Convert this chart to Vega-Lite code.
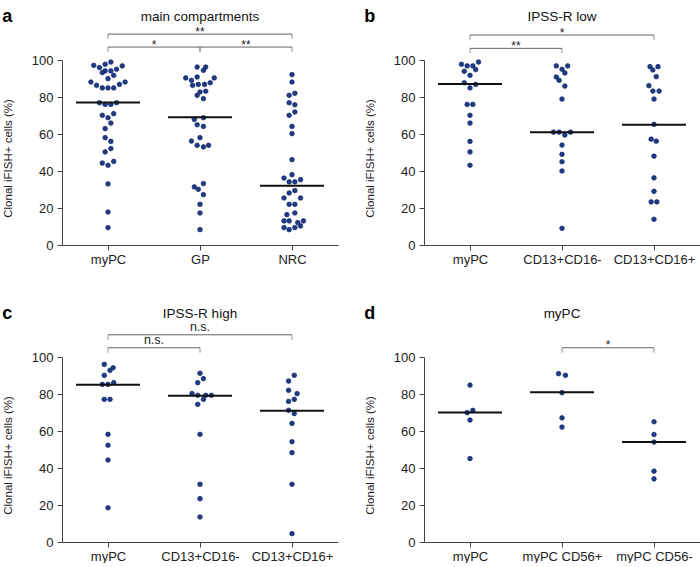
{
  "$schema": "https://vega.github.io/schema/vega-lite/v6.json",
  "padding": {"left": 2, "top": 7, "right": 0, "bottom": 0},
  "config": {
    "font": "Liberation Sans",
    "view": {"stroke": null},
    "axis": {"grid": false, "domainColor": "#444", "tickColor": "#444", "labelColor": "#222", "titleColor": "#222", "tickSize": 5, "labelFontSize": 13, "labelFont": "Liberation Sans", "titleFont": "Liberation Sans"},
    "axisY": {"labelOverlap": false, "labelPadding": 4, "titleFontSize": 11.5, "titleFontWeight": "normal", "titlePadding": 18, "titleY": 98},
    "axisX": {"labelAngle": 0, "labelPadding": 3},
    "title": {"font": "Liberation Sans"}
  },
  "datasets": {
    "points": [
      {"panel":"a","group":"myPC","value":98.9,"slot":0.5},
      {"panel":"a","group":"myPC","value":97.7,"slot":-0.5},
      {"panel":"a","group":"myPC","value":97.1,"slot":-2.5},
      {"panel":"a","group":"myPC","value":96.8,"slot":2.5},
      {"panel":"a","group":"myPC","value":95.9,"slot":-1.5},
      {"panel":"a","group":"myPC","value":95.0,"slot":1.5},
      {"panel":"a","group":"myPC","value":94.1,"slot":-0.5},
      {"panel":"a","group":"myPC","value":94.1,"slot":0.5},
      {"panel":"a","group":"myPC","value":93.2,"slot":-1},
      {"panel":"a","group":"myPC","value":91.7,"slot":1},
      {"panel":"a","group":"myPC","value":89.9,"slot":0},
      {"panel":"a","group":"myPC","value":88.1,"slot":-3},
      {"panel":"a","group":"myPC","value":88.1,"slot":3},
      {"panel":"a","group":"myPC","value":86.8,"slot":2},
      {"panel":"a","group":"myPC","value":86.3,"slot":-2},
      {"panel":"a","group":"myPC","value":84.9,"slot":-1},
      {"panel":"a","group":"myPC","value":84.9,"slot":0},
      {"panel":"a","group":"myPC","value":84.9,"slot":1},
      {"panel":"a","group":"myPC","value":76.9,"slot":-1.5},
      {"panel":"a","group":"myPC","value":76.0,"slot":-0.5},
      {"panel":"a","group":"myPC","value":76.0,"slot":0.5},
      {"panel":"a","group":"myPC","value":76.9,"slot":1.5},
      {"panel":"a","group":"myPC","value":70.1,"slot":-1},
      {"panel":"a","group":"myPC","value":71.0,"slot":1},
      {"panel":"a","group":"myPC","value":68.8,"slot":0},
      {"panel":"a","group":"myPC","value":65.9,"slot":0.5},
      {"panel":"a","group":"myPC","value":62.9,"slot":-0.5},
      {"panel":"a","group":"myPC","value":58.0,"slot":-0.5},
      {"panel":"a","group":"myPC","value":56.0,"slot":0.5},
      {"panel":"a","group":"myPC","value":52.1,"slot":0.5},
      {"panel":"a","group":"myPC","value":50.3,"slot":-0.5},
      {"panel":"a","group":"myPC","value":44.3,"slot":-1},
      {"panel":"a","group":"myPC","value":43.1,"slot":0},
      {"panel":"a","group":"myPC","value":45.2,"slot":1},
      {"panel":"a","group":"myPC","value":33.0,"slot":0},
      {"panel":"a","group":"myPC","value":17.8,"slot":0},
      {"panel":"a","group":"myPC","value":9.4,"slot":0},
      {"panel":"a","group":"GP","value":96.2,"slot":-0.5},
      {"panel":"a","group":"GP","value":96.2,"slot":1},
      {"panel":"a","group":"GP","value":94.4,"slot":0.6},
      {"panel":"a","group":"GP","value":90.8,"slot":-0.5},
      {"panel":"a","group":"GP","value":90.3,"slot":-2.5},
      {"panel":"a","group":"GP","value":90.3,"slot":2.5},
      {"panel":"a","group":"GP","value":89.0,"slot":-1.5},
      {"panel":"a","group":"GP","value":87.7,"slot":1.8},
      {"panel":"a","group":"GP","value":86.8,"slot":-0.3},
      {"panel":"a","group":"GP","value":86.8,"slot":0.8},
      {"panel":"a","group":"GP","value":86.3,"slot":-1.3},
      {"panel":"a","group":"GP","value":83.1,"slot":1},
      {"panel":"a","group":"GP","value":82.7,"slot":0},
      {"panel":"a","group":"GP","value":80.9,"slot":-0.5},
      {"panel":"a","group":"GP","value":79.1,"slot":0.6},
      {"panel":"a","group":"GP","value":68.8,"slot":0.6},
      {"panel":"a","group":"GP","value":67.9,"slot":-1},
      {"panel":"a","group":"GP","value":65.0,"slot":-0.5},
      {"panel":"a","group":"GP","value":64.1,"slot":0.6},
      {"panel":"a","group":"GP","value":58.0,"slot":0},
      {"panel":"a","group":"GP","value":56.2,"slot":-1.5},
      {"panel":"a","group":"GP","value":53.9,"slot":-0.5},
      {"panel":"a","group":"GP","value":53.9,"slot":1.5},
      {"panel":"a","group":"GP","value":53.0,"slot":0.6},
      {"panel":"a","group":"GP","value":33.2,"slot":0.6},
      {"panel":"a","group":"GP","value":31.4,"slot":-1},
      {"panel":"a","group":"GP","value":30.1,"slot":-0.3},
      {"panel":"a","group":"GP","value":27.2,"slot":0.6},
      {"panel":"a","group":"GP","value":22.0,"slot":0},
      {"panel":"a","group":"GP","value":17.3,"slot":0},
      {"panel":"a","group":"GP","value":8.3,"slot":0},
      {"panel":"a","group":"NRC","value":92.1,"slot":0},
      {"panel":"a","group":"NRC","value":88.1,"slot":0},
      {"panel":"a","group":"NRC","value":82.0,"slot":0.5},
      {"panel":"a","group":"NRC","value":80.9,"slot":-0.5},
      {"panel":"a","group":"NRC","value":76.9,"slot":-0.5},
      {"panel":"a","group":"NRC","value":75.8,"slot":0.5},
      {"panel":"a","group":"NRC","value":71.9,"slot":0.5},
      {"panel":"a","group":"NRC","value":70.1,"slot":-0.5},
      {"panel":"a","group":"NRC","value":64.1,"slot":0},
      {"panel":"a","group":"NRC","value":60.2,"slot":0},
      {"panel":"a","group":"NRC","value":46.1,"slot":0},
      {"panel":"a","group":"NRC","value":38.0,"slot":0},
      {"panel":"a","group":"NRC","value":36.2,"slot":-1.4},
      {"panel":"a","group":"NRC","value":35.3,"slot":1.5},
      {"panel":"a","group":"NRC","value":34.1,"slot":-0.5},
      {"panel":"a","group":"NRC","value":34.1,"slot":0.5},
      {"panel":"a","group":"NRC","value":29.4,"slot":0.5},
      {"panel":"a","group":"NRC","value":28.1,"slot":-0.5},
      {"panel":"a","group":"NRC","value":25.4,"slot":-1.4},
      {"panel":"a","group":"NRC","value":25.4,"slot":1.5},
      {"panel":"a","group":"NRC","value":22.0,"slot":-0.5},
      {"panel":"a","group":"NRC","value":22.0,"slot":0.5},
      {"panel":"a","group":"NRC","value":17.3,"slot":0.5},
      {"panel":"a","group":"NRC","value":16.4,"slot":-0.9},
      {"panel":"a","group":"NRC","value":13.0,"slot":-1.4},
      {"panel":"a","group":"NRC","value":13.0,"slot":-0.5},
      {"panel":"a","group":"NRC","value":12.1,"slot":1},
      {"panel":"a","group":"NRC","value":13.0,"slot":2},
      {"panel":"a","group":"NRC","value":10.3,"slot":1.5},
      {"panel":"a","group":"NRC","value":9.4,"slot":-1.4},
      {"panel":"a","group":"NRC","value":9.4,"slot":0.5},
      {"panel":"a","group":"NRC","value":8.3,"slot":-0.5},
      {"panel":"b","group":"myPC","value":98.9,"slot":1.5},
      {"panel":"b","group":"myPC","value":97.7,"slot":-1.5},
      {"panel":"b","group":"myPC","value":96.8,"slot":-0.5},
      {"panel":"b","group":"myPC","value":96.8,"slot":0.5},
      {"panel":"b","group":"myPC","value":94.8,"slot":1},
      {"panel":"b","group":"myPC","value":93.9,"slot":-1},
      {"panel":"b","group":"myPC","value":91.7,"slot":0},
      {"panel":"b","group":"myPC","value":87.7,"slot":-1},
      {"panel":"b","group":"myPC","value":86.8,"slot":1},
      {"panel":"b","group":"myPC","value":84.9,"slot":0},
      {"panel":"b","group":"myPC","value":76.0,"slot":-0.5},
      {"panel":"b","group":"myPC","value":76.0,"slot":0.5},
      {"panel":"b","group":"myPC","value":70.1,"slot":0},
      {"panel":"b","group":"myPC","value":65.9,"slot":0},
      {"panel":"b","group":"myPC","value":56.0,"slot":0},
      {"panel":"b","group":"myPC","value":50.3,"slot":0},
      {"panel":"b","group":"myPC","value":43.1,"slot":0},
      {"panel":"b","group":"CD13+CD16-","value":96.8,"slot":-1},
      {"panel":"b","group":"CD13+CD16-","value":96.8,"slot":1},
      {"panel":"b","group":"CD13+CD16-","value":95.0,"slot":0},
      {"panel":"b","group":"CD13+CD16-","value":93.0,"slot":0.5},
      {"panel":"b","group":"CD13+CD16-","value":90.8,"slot":-1},
      {"panel":"b","group":"CD13+CD16-","value":89.0,"slot":-0.5},
      {"panel":"b","group":"CD13+CD16-","value":85.9,"slot":0.5},
      {"panel":"b","group":"CD13+CD16-","value":78.9,"slot":0},
      {"panel":"b","group":"CD13+CD16-","value":61.0,"slot":-1.5},
      {"panel":"b","group":"CD13+CD16-","value":61.0,"slot":-0.5},
      {"panel":"b","group":"CD13+CD16-","value":61.0,"slot":1.5},
      {"panel":"b","group":"CD13+CD16-","value":59.4,"slot":0.5},
      {"panel":"b","group":"CD13+CD16-","value":54.0,"slot":0},
      {"panel":"b","group":"CD13+CD16-","value":49.0,"slot":0},
      {"panel":"b","group":"CD13+CD16-","value":45.0,"slot":0},
      {"panel":"b","group":"CD13+CD16-","value":40.0,"slot":0},
      {"panel":"b","group":"CD13+CD16-","value":9.0,"slot":0},
      {"panel":"b","group":"CD13+CD16+","value":96.4,"slot":-0.7},
      {"panel":"b","group":"CD13+CD16+","value":96.4,"slot":0.7},
      {"panel":"b","group":"CD13+CD16+","value":94.6,"slot":-0.2},
      {"panel":"b","group":"CD13+CD16+","value":91.0,"slot":0.4},
      {"panel":"b","group":"CD13+CD16+","value":86.1,"slot":-0.9},
      {"panel":"b","group":"CD13+CD16+","value":83.2,"slot":-0.2},
      {"panel":"b","group":"CD13+CD16+","value":83.2,"slot":0.9},
      {"panel":"b","group":"CD13+CD16+","value":78.9,"slot":0},
      {"panel":"b","group":"CD13+CD16+","value":65.2,"slot":0},
      {"panel":"b","group":"CD13+CD16+","value":57.2,"slot":-0.5},
      {"panel":"b","group":"CD13+CD16+","value":56.1,"slot":0.4},
      {"panel":"b","group":"CD13+CD16+","value":48.0,"slot":0},
      {"panel":"b","group":"CD13+CD16+","value":36.3,"slot":0},
      {"panel":"b","group":"CD13+CD16+","value":29.0,"slot":0},
      {"panel":"b","group":"CD13+CD16+","value":23.3,"slot":-0.5},
      {"panel":"b","group":"CD13+CD16+","value":23.3,"slot":0.5},
      {"panel":"b","group":"CD13+CD16+","value":13.9,"slot":0},
      {"panel":"c","group":"myPC","value":96.0,"slot":-0.65},
      {"panel":"c","group":"myPC","value":94.2,"slot":0.9},
      {"panel":"c","group":"myPC","value":92.8,"slot":0.35},
      {"panel":"c","group":"myPC","value":90.1,"slot":-0.65},
      {"panel":"c","group":"myPC","value":86.1,"slot":1},
      {"panel":"c","group":"myPC","value":85.2,"slot":-1},
      {"panel":"c","group":"myPC","value":85.2,"slot":0},
      {"panel":"c","group":"myPC","value":77.1,"slot":-0.65},
      {"panel":"c","group":"myPC","value":77.1,"slot":0.35},
      {"panel":"c","group":"myPC","value":58.2,"slot":0},
      {"panel":"c","group":"myPC","value":52.3,"slot":0},
      {"panel":"c","group":"myPC","value":44.3,"slot":0},
      {"panel":"c","group":"myPC","value":18.5,"slot":0},
      {"panel":"c","group":"CD13+CD16-","value":91.2,"slot":0},
      {"panel":"c","group":"CD13+CD16-","value":88.3,"slot":0.6},
      {"panel":"c","group":"CD13+CD16-","value":86.1,"slot":-0.4},
      {"panel":"c","group":"CD13+CD16-","value":80.2,"slot":-1.4},
      {"panel":"c","group":"CD13+CD16-","value":79.3,"slot":-0.4},
      {"panel":"c","group":"CD13+CD16-","value":79.3,"slot":1.0},
      {"panel":"c","group":"CD13+CD16-","value":79.3,"slot":2.0},
      {"panel":"c","group":"CD13+CD16-","value":77.1,"slot":0.6},
      {"panel":"c","group":"CD13+CD16-","value":74.4,"slot":-0.4},
      {"panel":"c","group":"CD13+CD16-","value":58.2,"slot":0},
      {"panel":"c","group":"CD13+CD16-","value":31.2,"slot":0},
      {"panel":"c","group":"CD13+CD16-","value":23.4,"slot":0},
      {"panel":"c","group":"CD13+CD16-","value":13.5,"slot":0},
      {"panel":"c","group":"CD13+CD16+","value":90.1,"slot":0.4},
      {"panel":"c","group":"CD13+CD16+","value":87.0,"slot":-0.6},
      {"panel":"c","group":"CD13+CD16+","value":82.0,"slot":-0.6},
      {"panel":"c","group":"CD13+CD16+","value":80.2,"slot":0.9},
      {"panel":"c","group":"CD13+CD16+","value":77.1,"slot":0.4},
      {"panel":"c","group":"CD13+CD16+","value":76.0,"slot":-0.6},
      {"panel":"c","group":"CD13+CD16+","value":71.2,"slot":-0.6},
      {"panel":"c","group":"CD13+CD16+","value":69.4,"slot":0.4},
      {"panel":"c","group":"CD13+CD16+","value":64.1,"slot":0},
      {"panel":"c","group":"CD13+CD16+","value":54.2,"slot":0},
      {"panel":"c","group":"CD13+CD16+","value":48.3,"slot":0},
      {"panel":"c","group":"CD13+CD16+","value":31.2,"slot":0},
      {"panel":"c","group":"CD13+CD16+","value":4.5,"slot":0},
      {"panel":"d","group":"myPC","value":84.8,"slot":0},
      {"panel":"d","group":"myPC","value":71.1,"slot":0.5},
      {"panel":"d","group":"myPC","value":69.9,"slot":-0.5},
      {"panel":"d","group":"myPC","value":65.9,"slot":0},
      {"panel":"d","group":"myPC","value":45.1,"slot":0},
      {"panel":"d","group":"myPC CD56+","value":91.0,"slot":-0.6},
      {"panel":"d","group":"myPC CD56+","value":90.1,"slot":0.6},
      {"panel":"d","group":"myPC CD56+","value":80.7,"slot":0},
      {"panel":"d","group":"myPC CD56+","value":67.1,"slot":0},
      {"panel":"d","group":"myPC CD56+","value":62.1,"slot":0},
      {"panel":"d","group":"myPC CD56-","value":65.0,"slot":0},
      {"panel":"d","group":"myPC CD56-","value":58.1,"slot":0},
      {"panel":"d","group":"myPC CD56-","value":54.0,"slot":0},
      {"panel":"d","group":"myPC CD56-","value":38.3,"slot":0},
      {"panel":"d","group":"myPC CD56-","value":34.1,"slot":0}
    ],
    "medians": [
      {"panel":"a","group":"myPC","median":77},
      {"panel":"a","group":"GP","median":69},
      {"panel":"a","group":"NRC","median":32},
      {"panel":"b","group":"myPC","median":87},
      {"panel":"b","group":"CD13+CD16-","median":61},
      {"panel":"b","group":"CD13+CD16+","median":65},
      {"panel":"c","group":"myPC","median":85},
      {"panel":"c","group":"CD13+CD16-","median":79},
      {"panel":"c","group":"CD13+CD16+","median":71},
      {"panel":"d","group":"myPC","median":70},
      {"panel":"d","group":"myPC CD56+","median":81},
      {"panel":"d","group":"myPC CD56-","median":54}
    ],
    "brackets": [
      {"panel":"a","from":1,"to":3,"level":114,"label":"**"},
      {"panel":"a","from":1,"to":2,"level":107,"label":"*"},
      {"panel":"a","from":2,"to":3,"level":107,"label":"**"},
      {"panel":"b","from":1,"to":3,"level":113.5,"label":"*"},
      {"panel":"b","from":1,"to":2,"level":106.3,"label":"**"},
      {"panel":"c","from":1,"to":3,"level":112,"label":"n.s."},
      {"panel":"c","from":1,"to":2,"level":105,"label":"n.s."},
      {"panel":"d","from":2,"to":3,"level":105,"label":"*"}
    ],
    "titles": [
      {"panel":"a","title":"main compartments"},
      {"panel":"b","title":"IPSS-R low"},
      {"panel":"c","title":"IPSS-R high"},
      {"panel":"d","title":"myPC"}
    ]
  },
  "vconcat": [
    {
      "spacing": 26,
      "hconcat": [
        {
          "title": {"text": "a", "anchor": "start", "frame": "bounds", "fontSize": 18, "fontWeight": "bold", "color": "#000", "offset": -16},
          "width": 276, "height": 185,
          "resolve": {"scale": {"x": "independent"}},
          "layer": [
            {"data": {"name": "points"}, "transform": [{"filter": "datum.panel === 'a'"}],
             "mark": {"type": "circle", "size": 22, "color": "#1f3b87", "opacity": 1, "stroke": "#0c205c", "strokeWidth": 0.6},
             "encoding": {
               "x": {"field": "group", "type": "nominal", "scale": {"type": "point", "padding": 0.5, "domain": ["myPC","GP","NRC"]}, "axis": {"title": null}},
               "xOffset": {"field": "slot", "type": "quantitative", "scale": {"domain": [-1, 1], "range": [-5.7, 5.7]}},
               "y": {"field": "value", "type": "quantitative", "scale": {"domain": [0, 100], "nice": false}, "axis": {"values": [0,20,40,60,80,100], "title": "Clonal iFISH+ cells (%)"}}
             }},
            {"data": {"name": "medians"}, "transform": [{"filter": "datum.panel === 'a'"}],
             "mark": {"type": "tick", "size": 64, "thickness": 2, "color": "#111", "opacity": 1},
             "encoding": {
               "x": {"field": "group", "type": "nominal", "scale": {"type": "point", "padding": 0.5, "domain": ["myPC","GP","NRC"]}, "axis": null},
               "y": {"field": "median", "type": "quantitative", "scale": {"domain": [0, 100], "nice": false}, "axis": {"values": [0,20,40,60,80,100], "title": "Clonal iFISH+ cells (%)"}}
             }},
            {"data": {"name": "brackets"}, "transform": [{"filter": "datum.panel === 'a'"}],
             "layer": [
               {"mark": {"type": "rule", "color": "#666", "strokeWidth": 1},
                "encoding": {"x": {"field": "from", "type": "quantitative", "scale": {"domain": [0.5, 3.5], "nice": false, "zero": false}, "axis": null}, "x2": {"field": "to"}, "y": {"field": "level", "type": "quantitative", "scale": {"domain": [0, 100], "nice": false}, "axis": {"values": [0,20,40,60,80,100], "title": "Clonal iFISH+ cells (%)"}}}},
               {"mark": {"type": "tick", "orient": "vertical", "size": 5, "thickness": 1, "color": "#666", "yOffset": 2.5},
                "encoding": {"x": {"field": "from", "type": "quantitative", "axis": null}, "y": {"field": "level", "type": "quantitative", "axis": {"values": [0,20,40,60,80,100], "title": "Clonal iFISH+ cells (%)"}}}},
               {"mark": {"type": "tick", "orient": "vertical", "size": 5, "thickness": 1, "color": "#666", "yOffset": 2.5},
                "encoding": {"x": {"field": "to", "type": "quantitative", "axis": null}, "y": {"field": "level", "type": "quantitative", "axis": {"values": [0,20,40,60,80,100], "title": "Clonal iFISH+ cells (%)"}}}},
               {"transform": [{"calculate": "(datum.from + datum.to) / 2", "as": "mid"}, {"filter": "datum.label !== 'n.s.'"}],
                "mark": {"type": "text", "fontSize": 12, "baseline": "alphabetic", "dy": 1.5, "color": "#222"},
                "encoding": {"x": {"field": "mid", "type": "quantitative", "axis": null}, "y": {"field": "level", "type": "quantitative", "axis": {"values": [0,20,40,60,80,100], "title": "Clonal iFISH+ cells (%)"}}, "text": {"field": "label"}}},
               {"transform": [{"calculate": "(datum.from + datum.to) / 2", "as": "mid"}, {"filter": "datum.label === 'n.s.'"}],
                "mark": {"type": "text", "fontSize": 12.5, "baseline": "alphabetic", "dy": -3.5, "color": "#222"},
                "encoding": {"x": {"field": "mid", "type": "quantitative", "axis": null}, "y": {"field": "level", "type": "quantitative", "axis": {"values": [0,20,40,60,80,100], "title": "Clonal iFISH+ cells (%)"}}, "text": {"field": "label"}}}
             ]},
            {"data": {"name": "titles"}, "transform": [{"filter": "datum.panel === 'a'"}],
             "mark": {"type": "text", "fontSize": 13.5, "baseline": "middle", "color": "#111"},
             "encoding": {"x": {"datum": 2, "type": "quantitative", "scale": {"domain": [0.5, 3.5], "nice": false, "zero": false}, "axis": null}, "y": {"datum": 123.5, "type": "quantitative", "scale": {"domain": [0, 100], "nice": false}, "axis": {"values": [0,20,40,60,80,100], "title": "Clonal iFISH+ cells (%)"}}, "text": {"field": "title"}}}
          ]
        },
        {
          "title": {"text": "b", "anchor": "start", "frame": "bounds", "fontSize": 18, "fontWeight": "bold", "color": "#000", "offset": -16},
          "width": 276, "height": 185,
          "resolve": {"scale": {"x": "independent"}},
          "layer": [
            {"data": {"name": "points"}, "transform": [{"filter": "datum.panel === 'b'"}],
             "mark": {"type": "circle", "size": 22, "color": "#1f3b87", "opacity": 1, "stroke": "#0c205c", "strokeWidth": 0.6},
             "encoding": {
               "x": {"field": "group", "type": "nominal", "scale": {"type": "point", "padding": 0.5, "domain": ["myPC","CD13+CD16-","CD13+CD16+"]}, "axis": {"title": null}},
               "xOffset": {"field": "slot", "type": "quantitative", "scale": {"domain": [-1, 1], "range": [-5.7, 5.7]}},
               "y": {"field": "value", "type": "quantitative", "scale": {"domain": [0, 100], "nice": false}, "axis": {"values": [0,20,40,60,80,100], "title": "Clonal iFISH+ cells (%)"}}
             }},
            {"data": {"name": "medians"}, "transform": [{"filter": "datum.panel === 'b'"}],
             "mark": {"type": "tick", "size": 64, "thickness": 2, "color": "#111", "opacity": 1},
             "encoding": {
               "x": {"field": "group", "type": "nominal", "scale": {"type": "point", "padding": 0.5, "domain": ["myPC","CD13+CD16-","CD13+CD16+"]}, "axis": null},
               "y": {"field": "median", "type": "quantitative", "scale": {"domain": [0, 100], "nice": false}, "axis": {"values": [0,20,40,60,80,100], "title": "Clonal iFISH+ cells (%)"}}
             }},
            {"data": {"name": "brackets"}, "transform": [{"filter": "datum.panel === 'b'"}],
             "layer": [
               {"mark": {"type": "rule", "color": "#666", "strokeWidth": 1},
                "encoding": {"x": {"field": "from", "type": "quantitative", "scale": {"domain": [0.5, 3.5], "nice": false, "zero": false}, "axis": null}, "x2": {"field": "to"}, "y": {"field": "level", "type": "quantitative", "scale": {"domain": [0, 100], "nice": false}, "axis": {"values": [0,20,40,60,80,100], "title": "Clonal iFISH+ cells (%)"}}}},
               {"mark": {"type": "tick", "orient": "vertical", "size": 5, "thickness": 1, "color": "#666", "yOffset": 2.5},
                "encoding": {"x": {"field": "from", "type": "quantitative", "axis": null}, "y": {"field": "level", "type": "quantitative", "axis": {"values": [0,20,40,60,80,100], "title": "Clonal iFISH+ cells (%)"}}}},
               {"mark": {"type": "tick", "orient": "vertical", "size": 5, "thickness": 1, "color": "#666", "yOffset": 2.5},
                "encoding": {"x": {"field": "to", "type": "quantitative", "axis": null}, "y": {"field": "level", "type": "quantitative", "axis": {"values": [0,20,40,60,80,100], "title": "Clonal iFISH+ cells (%)"}}}},
               {"transform": [{"calculate": "(datum.from + datum.to) / 2", "as": "mid"}, {"filter": "datum.label !== 'n.s.'"}],
                "mark": {"type": "text", "fontSize": 12, "baseline": "alphabetic", "dy": 1.5, "color": "#222"},
                "encoding": {"x": {"field": "mid", "type": "quantitative", "axis": null}, "y": {"field": "level", "type": "quantitative", "axis": {"values": [0,20,40,60,80,100], "title": "Clonal iFISH+ cells (%)"}}, "text": {"field": "label"}}},
               {"transform": [{"calculate": "(datum.from + datum.to) / 2", "as": "mid"}, {"filter": "datum.label === 'n.s.'"}],
                "mark": {"type": "text", "fontSize": 12.5, "baseline": "alphabetic", "dy": -3.5, "color": "#222"},
                "encoding": {"x": {"field": "mid", "type": "quantitative", "axis": null}, "y": {"field": "level", "type": "quantitative", "axis": {"values": [0,20,40,60,80,100], "title": "Clonal iFISH+ cells (%)"}}, "text": {"field": "label"}}}
             ]},
            {"data": {"name": "titles"}, "transform": [{"filter": "datum.panel === 'b'"}],
             "mark": {"type": "text", "fontSize": 13.5, "baseline": "middle", "color": "#111"},
             "encoding": {"x": {"datum": 2, "type": "quantitative", "scale": {"domain": [0.5, 3.5], "nice": false, "zero": false}, "axis": null}, "y": {"datum": 123.5, "type": "quantitative", "scale": {"domain": [0, 100], "nice": false}, "axis": {"values": [0,20,40,60,80,100], "title": "Clonal iFISH+ cells (%)"}}, "text": {"field": "title"}}}
          ]
        }
      ]
    },
    {
      "spacing": 26,
      "hconcat": [
        {
          "title": {"text": "c", "anchor": "start", "frame": "bounds", "fontSize": 18, "fontWeight": "bold", "color": "#000", "offset": -16},
          "width": 276, "height": 185,
          "resolve": {"scale": {"x": "independent"}},
          "layer": [
            {"data": {"name": "points"}, "transform": [{"filter": "datum.panel === 'c'"}],
             "mark": {"type": "circle", "size": 22, "color": "#1f3b87", "opacity": 1, "stroke": "#0c205c", "strokeWidth": 0.6},
             "encoding": {
               "x": {"field": "group", "type": "nominal", "scale": {"type": "point", "padding": 0.5, "domain": ["myPC","CD13+CD16-","CD13+CD16+"]}, "axis": {"title": null}},
               "xOffset": {"field": "slot", "type": "quantitative", "scale": {"domain": [-1, 1], "range": [-5.7, 5.7]}},
               "y": {"field": "value", "type": "quantitative", "scale": {"domain": [0, 100], "nice": false}, "axis": {"values": [0,20,40,60,80,100], "title": "Clonal iFISH+ cells (%)"}}
             }},
            {"data": {"name": "medians"}, "transform": [{"filter": "datum.panel === 'c'"}],
             "mark": {"type": "tick", "size": 64, "thickness": 2, "color": "#111", "opacity": 1},
             "encoding": {
               "x": {"field": "group", "type": "nominal", "scale": {"type": "point", "padding": 0.5, "domain": ["myPC","CD13+CD16-","CD13+CD16+"]}, "axis": null},
               "y": {"field": "median", "type": "quantitative", "scale": {"domain": [0, 100], "nice": false}, "axis": {"values": [0,20,40,60,80,100], "title": "Clonal iFISH+ cells (%)"}}
             }},
            {"data": {"name": "brackets"}, "transform": [{"filter": "datum.panel === 'c'"}],
             "layer": [
               {"mark": {"type": "rule", "color": "#666", "strokeWidth": 1},
                "encoding": {"x": {"field": "from", "type": "quantitative", "scale": {"domain": [0.5, 3.5], "nice": false, "zero": false}, "axis": null}, "x2": {"field": "to"}, "y": {"field": "level", "type": "quantitative", "scale": {"domain": [0, 100], "nice": false}, "axis": {"values": [0,20,40,60,80,100], "title": "Clonal iFISH+ cells (%)"}}}},
               {"mark": {"type": "tick", "orient": "vertical", "size": 5, "thickness": 1, "color": "#666", "yOffset": 2.5},
                "encoding": {"x": {"field": "from", "type": "quantitative", "axis": null}, "y": {"field": "level", "type": "quantitative", "axis": {"values": [0,20,40,60,80,100], "title": "Clonal iFISH+ cells (%)"}}}},
               {"mark": {"type": "tick", "orient": "vertical", "size": 5, "thickness": 1, "color": "#666", "yOffset": 2.5},
                "encoding": {"x": {"field": "to", "type": "quantitative", "axis": null}, "y": {"field": "level", "type": "quantitative", "axis": {"values": [0,20,40,60,80,100], "title": "Clonal iFISH+ cells (%)"}}}},
               {"transform": [{"calculate": "(datum.from + datum.to) / 2", "as": "mid"}, {"filter": "datum.label !== 'n.s.'"}],
                "mark": {"type": "text", "fontSize": 12, "baseline": "alphabetic", "dy": 1.5, "color": "#222"},
                "encoding": {"x": {"field": "mid", "type": "quantitative", "axis": null}, "y": {"field": "level", "type": "quantitative", "axis": {"values": [0,20,40,60,80,100], "title": "Clonal iFISH+ cells (%)"}}, "text": {"field": "label"}}},
               {"transform": [{"calculate": "(datum.from + datum.to) / 2", "as": "mid"}, {"filter": "datum.label === 'n.s.'"}],
                "mark": {"type": "text", "fontSize": 12.5, "baseline": "alphabetic", "dy": -3.5, "color": "#222"},
                "encoding": {"x": {"field": "mid", "type": "quantitative", "axis": null}, "y": {"field": "level", "type": "quantitative", "axis": {"values": [0,20,40,60,80,100], "title": "Clonal iFISH+ cells (%)"}}, "text": {"field": "label"}}}
             ]},
            {"data": {"name": "titles"}, "transform": [{"filter": "datum.panel === 'c'"}],
             "mark": {"type": "text", "fontSize": 13.5, "baseline": "middle", "color": "#111"},
             "encoding": {"x": {"datum": 2, "type": "quantitative", "scale": {"domain": [0.5, 3.5], "nice": false, "zero": false}, "axis": null}, "y": {"datum": 123.5, "type": "quantitative", "scale": {"domain": [0, 100], "nice": false}, "axis": {"values": [0,20,40,60,80,100], "title": "Clonal iFISH+ cells (%)"}}, "text": {"field": "title"}}}
          ]
        },
        {
          "title": {"text": "d", "anchor": "start", "frame": "bounds", "fontSize": 18, "fontWeight": "bold", "color": "#000", "offset": -16},
          "width": 276, "height": 185,
          "resolve": {"scale": {"x": "independent"}},
          "layer": [
            {"data": {"name": "points"}, "transform": [{"filter": "datum.panel === 'd'"}],
             "mark": {"type": "circle", "size": 22, "color": "#1f3b87", "opacity": 1, "stroke": "#0c205c", "strokeWidth": 0.6},
             "encoding": {
               "x": {"field": "group", "type": "nominal", "scale": {"type": "point", "padding": 0.5, "domain": ["myPC","myPC CD56+","myPC CD56-"]}, "axis": {"title": null}},
               "xOffset": {"field": "slot", "type": "quantitative", "scale": {"domain": [-1, 1], "range": [-5.7, 5.7]}},
               "y": {"field": "value", "type": "quantitative", "scale": {"domain": [0, 100], "nice": false}, "axis": {"values": [0,20,40,60,80,100], "title": "Clonal iFISH+ cells (%)"}}
             }},
            {"data": {"name": "medians"}, "transform": [{"filter": "datum.panel === 'd'"}],
             "mark": {"type": "tick", "size": 64, "thickness": 2, "color": "#111", "opacity": 1},
             "encoding": {
               "x": {"field": "group", "type": "nominal", "scale": {"type": "point", "padding": 0.5, "domain": ["myPC","myPC CD56+","myPC CD56-"]}, "axis": null},
               "y": {"field": "median", "type": "quantitative", "scale": {"domain": [0, 100], "nice": false}, "axis": {"values": [0,20,40,60,80,100], "title": "Clonal iFISH+ cells (%)"}}
             }},
            {"data": {"name": "brackets"}, "transform": [{"filter": "datum.panel === 'd'"}],
             "layer": [
               {"mark": {"type": "rule", "color": "#666", "strokeWidth": 1},
                "encoding": {"x": {"field": "from", "type": "quantitative", "scale": {"domain": [0.5, 3.5], "nice": false, "zero": false}, "axis": null}, "x2": {"field": "to"}, "y": {"field": "level", "type": "quantitative", "scale": {"domain": [0, 100], "nice": false}, "axis": {"values": [0,20,40,60,80,100], "title": "Clonal iFISH+ cells (%)"}}}},
               {"mark": {"type": "tick", "orient": "vertical", "size": 5, "thickness": 1, "color": "#666", "yOffset": 2.5},
                "encoding": {"x": {"field": "from", "type": "quantitative", "axis": null}, "y": {"field": "level", "type": "quantitative", "axis": {"values": [0,20,40,60,80,100], "title": "Clonal iFISH+ cells (%)"}}}},
               {"mark": {"type": "tick", "orient": "vertical", "size": 5, "thickness": 1, "color": "#666", "yOffset": 2.5},
                "encoding": {"x": {"field": "to", "type": "quantitative", "axis": null}, "y": {"field": "level", "type": "quantitative", "axis": {"values": [0,20,40,60,80,100], "title": "Clonal iFISH+ cells (%)"}}}},
               {"transform": [{"calculate": "(datum.from + datum.to) / 2", "as": "mid"}, {"filter": "datum.label !== 'n.s.'"}],
                "mark": {"type": "text", "fontSize": 12, "baseline": "alphabetic", "dy": 1.5, "color": "#222"},
                "encoding": {"x": {"field": "mid", "type": "quantitative", "axis": null}, "y": {"field": "level", "type": "quantitative", "axis": {"values": [0,20,40,60,80,100], "title": "Clonal iFISH+ cells (%)"}}, "text": {"field": "label"}}},
               {"transform": [{"calculate": "(datum.from + datum.to) / 2", "as": "mid"}, {"filter": "datum.label === 'n.s.'"}],
                "mark": {"type": "text", "fontSize": 12.5, "baseline": "alphabetic", "dy": -3.5, "color": "#222"},
                "encoding": {"x": {"field": "mid", "type": "quantitative", "axis": null}, "y": {"field": "level", "type": "quantitative", "axis": {"values": [0,20,40,60,80,100], "title": "Clonal iFISH+ cells (%)"}}, "text": {"field": "label"}}}
             ]},
            {"data": {"name": "titles"}, "transform": [{"filter": "datum.panel === 'd'"}],
             "mark": {"type": "text", "fontSize": 13.5, "baseline": "middle", "color": "#111"},
             "encoding": {"x": {"datum": 2, "type": "quantitative", "scale": {"domain": [0.5, 3.5], "nice": false, "zero": false}, "axis": null}, "y": {"datum": 123.5, "type": "quantitative", "scale": {"domain": [0, 100], "nice": false}, "axis": {"values": [0,20,40,60,80,100], "title": "Clonal iFISH+ cells (%)"}}, "text": {"field": "title"}}}
          ]
        }
      ]
    }
  ],
  "spacing": 38
}
